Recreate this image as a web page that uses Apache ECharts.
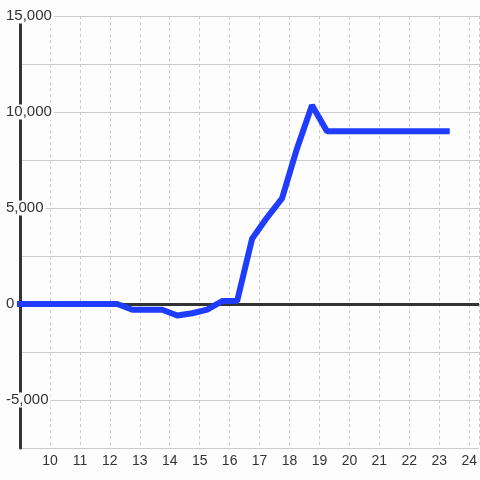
<!DOCTYPE html>
<html>
<head>
<meta charset="utf-8">
<script src="https://cdn.jsdelivr.net/npm/echarts@6/dist/echarts.min.js"></script>
<style>
  html, body { margin: 0; padding: 0; background: #fcfdfc; }
  #chart { width: 480px; height: 480px; }
</style>
</head>
<body>
<div id="chart"></div>
<script>
// hours of the day (fractional) and matching values
var hours = [8.75, 9.25, 9.75, 10.25, 10.75, 11.25, 11.75, 12.25, 12.75, 13.25,
             13.75, 14.25, 14.75, 15.25, 15.75, 16.25, 16.75, 17.25, 17.75, 18.25,
             18.75, 19.25, 19.75, 20.25, 20.75, 21.25, 21.75, 22.25, 22.75, 23.25];
var values = [0, 0, 0, 0, 0, 0, 0, 0, -300, -300,
              -300, -600, -480, -290, 150, 150, 3400, 4500, 5500, 8100,
              10350, 9000, 9000, 9000, 9000, 9000, 9000, 9000, 9000, 9000];
var yLabelValues = [-5000, 0, 5000, 10000, 15000];

var myChart = echarts.init(document.getElementById('chart'));
var points = hours.map(function (h, i) { return [h, values[i]]; });

var option = {
  backgroundColor: '#fcfdfc',
  animation: false,
  grid: { left: 20, right: 0, top: 16, bottom: 32, containLabel: false },
  xAxis: {
    type: 'value',
    min: 9,
    max: 24.33,
    interval: 1,
    axisLine: { show: false },
    axisTick: { show: false },
    splitLine: { show: true, lineStyle: { color: '#cccccc', width: 1, type: [3, 3] } },
    axisLabel: {
      showMinLabel: false,
      showMaxLabel: false,
      margin: 6,
      color: '#333',
      fontSize: 14,
      fontFamily: 'Liberation Sans',
      formatter: function (v) { return Number.isInteger(v) ? String(v) : ''; }
    }
  },
  yAxis: {
    type: 'value',
    min: -7500,
    max: 15000,
    interval: 2500,
    axisLine: { show: true, lineStyle: { color: '#333', width: 3 } },
    axisTick: { show: false },
    splitLine: { show: true, lineStyle: { color: '#cccccc', width: 1 } },
    axisLabel: {
      align: 'left',
      margin: 14,
      formatter: function (v) {
        if (yLabelValues.indexOf(v) < 0) return '';
        return '{a|' + v.toLocaleString('en-US') + '}';
      },
      rich: {
        a: {
          color: '#333',
          fontSize: 15,
          lineHeight: 14,
          fontFamily: 'Liberation Sans',
          backgroundColor: '#fcfdfc',
          padding: [0, 2, 0, 0]
        }
      }
    }
  },
  series: [
    {
      type: 'line',
      data: points,
      symbol: 'none',
      z: 5,
      lineStyle: { color: '#1f3cff', width: 6, cap: 'square' },
      markLine: {
        z: 1,
        silent: true,
        symbol: ['none', 'none'],
        label: { show: false },
        lineStyle: { color: '#333', width: 3, type: 'solid' },
        data: [{ yAxis: 0 }]
      }
    }
  ]
};
option && myChart.setOption(option);
</script>
</body>
</html>
